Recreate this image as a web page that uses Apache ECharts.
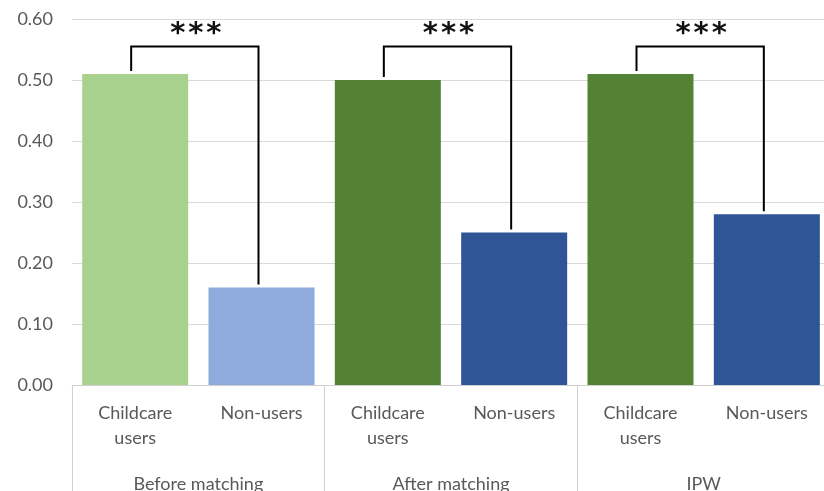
<!DOCTYPE html>
<html>
<head>
<meta charset="utf-8">
<script src="https://cdn.jsdelivr.net/npm/echarts@6/dist/echarts.min.js"></script>
<style>
html,body{margin:0;padding:0;background:#fff;overflow:hidden;width:824px;height:491px;}
#chart{width:832px;height:491px;}
</style>
</head>
<body>
<div id="chart"></div>
<script>
const categories = ['Childcare\nusers', 'Non-users', 'Childcare\nusers', 'Non-users', 'Childcare\nusers', 'Non-users'];
const groups = ['Before matching', 'After matching', 'IPW'];
const values = [0.51, 0.16, 0.50, 0.25, 0.51, 0.28];
const barColors = ['#a9d18e', '#8faadc', '#548235', '#2f5597', '#548235', '#2f5597'];
const yTicks = [0, 0.1, 0.2, 0.3, 0.4, 0.5, 0.6];
// brackets: [left bar index, right bar index, left value, right value, bracket top]
const brackets = [
  [0, 1, 0.51, 0.16, 0.555],
  [2, 3, 0.50, 0.25, 0.555],
  [4, 5, 0.51, 0.28, 0.555]
];
const sigLabels = ['***', '***', '***'];

const FONT = 'Lato';
const chart = echarts.init(document.getElementById('chart'));
chart.setOption({
  animation: false,
  backgroundColor: '#fff',
  grid: { left: 72, right: 2, top: 19, bottom: 106, containLabel: false, outerBoundsMode: 'none' },
  xAxis: [
    {
      type: 'category',
      data: categories,
      axisLine: { show: true, lineStyle: { color: '#d0d0d0', width: 1 } },
      axisTick: { show: false },
      axisLabel: { color: '#595959', fontFamily: FONT, fontSize: 18, lineHeight: 25, margin: 16, interval: 0, verticalAlign: 'top' }
    },
    {
      type: 'category',
      data: groups,
      position: 'bottom',
      axisLine: { show: false },
      axisTick: { show: true, length: 110, alignWithLabel: false, lineStyle: { color: '#d0d0d0', width: 1 } },
      axisLabel: { color: '#595959', fontFamily: FONT, fontSize: 18, margin: 90, interval: 0, verticalAlign: 'top' }
    }
  ],
  yAxis: {
    type: 'value',
    min: yTicks[0],
    max: yTicks[yTicks.length - 1],
    interval: 0.1,
    axisLine: { show: false },
    axisTick: { show: false },
    splitLine: { lineStyle: { color: '#d9d9d9', width: 1 } },
    axisLabel: { color: '#595959', fontFamily: FONT, fontSize: 18, margin: 19, formatter: v => v.toFixed(2) }
  },
  series: [
    {
      type: 'bar',
      xAxisIndex: 0,
      barWidth: 106,
      data: values.map((v, i) => ({ value: v, itemStyle: { color: barColors[i] } }))
    },
    {
      type: 'custom',
      xAxisIndex: 0,
      encode: { x: 0, y: 4 },
      data: brackets,
      z: 10,
      renderItem: function (params, api) {
        const li = api.value(0), ri = api.value(1);
        const lv = api.value(2), rv = api.value(3), tv = api.value(4);
        const pL = api.coord([li, lv]);
        const pR = api.coord([ri, rv]);
        const pT = api.coord([li, tv]);
        const xl = pL[0] - 4, xr = pR[0] - 3;
        const yt = pT[1];
        return {
          type: 'group',
          children: [
            {
              type: 'polyline',
              shape: { points: [[xl, pL[1] - 3], [xl, yt], [xr, yt], [xr, pR[1] - 3]] },
              style: { stroke: '#000', lineWidth: 2, fill: null }
            },
            {
              type: 'text',
              style: {
                x: (xl + xr) / 2 + 1, y: yt - 12,
                text: sigLabels[params.dataIndex].split('').join('\u200a'),
                fill: '#111', font: 'bold 29px "DejaVu Sans"',
                align: 'center', verticalAlign: 'middle'
              }
            }
          ]
        };
      }
    }
  ]
});
</script>
</body>
</html>
